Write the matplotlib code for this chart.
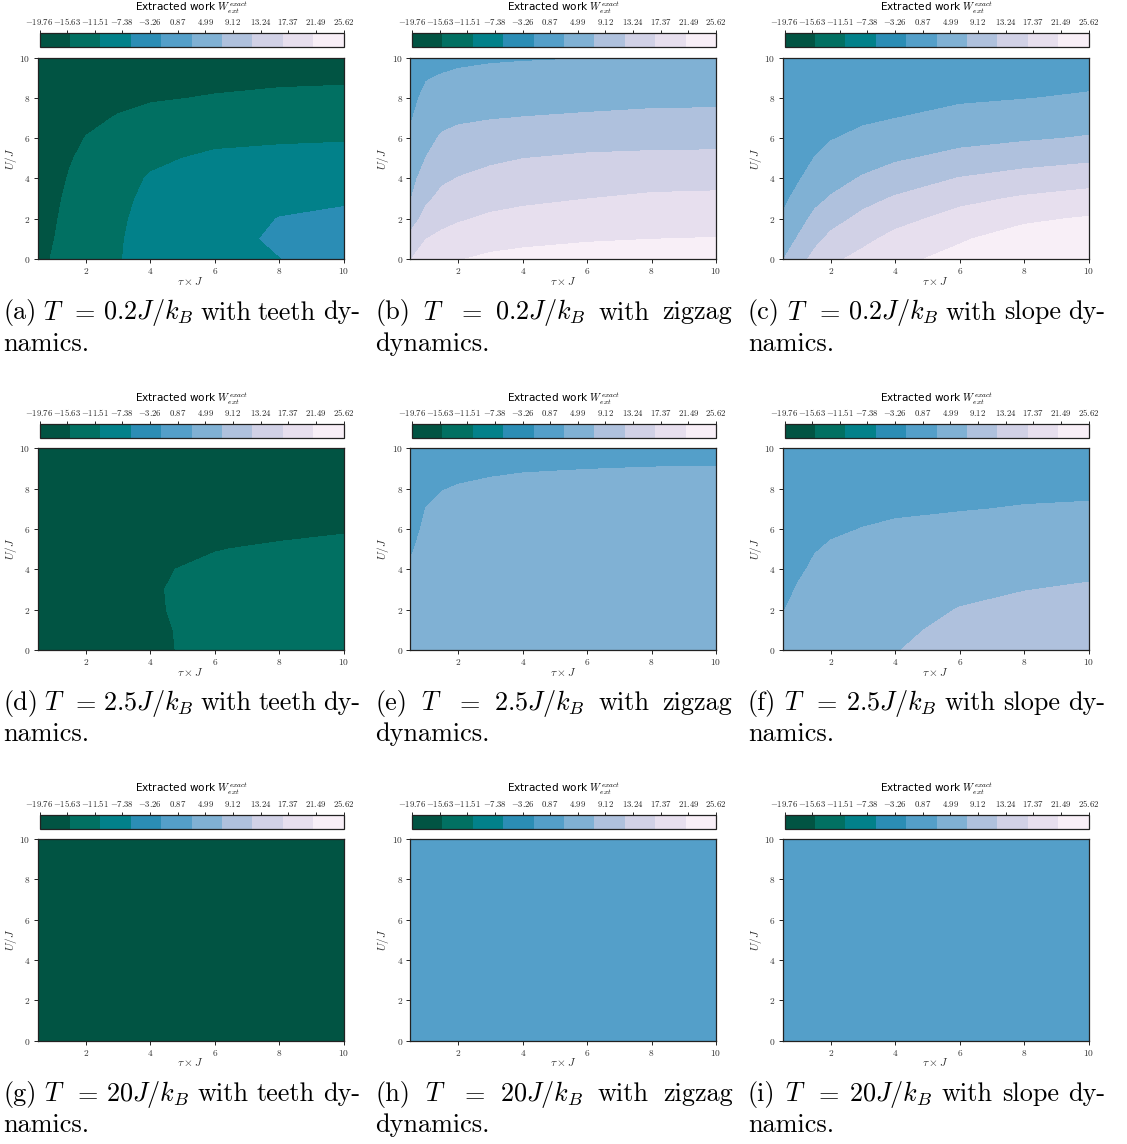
import numpy as np
import matplotlib
matplotlib.use("Agg")
import matplotlib.pyplot as plt
from matplotlib.transforms import IdentityTransform

plt.rcParams["mathtext.fontset"] = "cm"
plt.rcParams["font.family"] = "cmr10"
plt.rcParams["axes.formatter.use_mathtext"] = True

# ---------------------------------------------------------------- data
TAU = [0.5, 1.0, 1.5, 2.0, 3.0, 4.0, 6.0, 8.0, 10.0]        # tau x J
U_OVER_J = [0, 1, 2, 3, 4, 5, 6, 7, 8, 9, 10]                 # U / J

W_MIN, W_MAX = -19.76, 25.62
CBAR_TICKS = [-19.76, -15.63, -11.51, -7.38, -3.26, 0.87,
              4.99, 9.12, 13.24, 17.37, 21.49, 25.62]

TEMPERATURES = ["0.2", "2.5", "20"]
DYNAMICS = ["teeth", "zigzag", "slope"]
LETTERS = "abcdefghi"

# extracted work, rows follow U_OVER_J, columns follow TAU
W_TEETH_T02 = [
    [-17.26, -14.63, -12.50, -11.36, -10.91, -9.32, -7.51, -6.24, -4.78],
    [-17.49, -15.36, -12.95, -11.59, -11.00, -9.41, -7.42, -5.60, -4.78],
    [-17.72, -15.90, -13.41, -12.05, -11.23, -9.55, -7.73, -6.06, -5.47],
    [-17.94, -16.36, -14.09, -12.50, -11.59, -9.87, -8.42, -7.05, -6.60],
    [-18.17, -16.81, -14.86, -13.18, -12.05, -10.37, -9.10, -7.96, -7.51],
    [-18.40, -17.17, -15.59, -14.09, -12.73, -11.36, -10.00, -9.32, -8.87],
    [-18.63, -17.49, -16.13, -15.13, -13.63, -12.50, -11.59, -11.36, -11.14],
    [-18.85, -17.85, -16.58, -15.90, -15.04, -13.86, -12.95, -12.50, -12.27],
    [-19.08, -18.17, -17.04, -16.58, -15.90, -15.68, -14.95, -14.31, -14.09],
    [-19.31, -18.49, -17.49, -17.04, -16.58, -16.36, -16.36, -16.13, -15.90],
    [-19.53, -18.85, -17.94, -17.49, -17.04, -16.81, -16.58, -16.58, -16.36],
]

W_ZIGZAG_T02 = [
    [16.32, 18.81, 19.95, 20.86, 21.85, 22.31, 22.81, 23.03, 23.17],
    [13.10, 16.50, 17.54, 18.41, 19.49, 20.08, 20.72, 21.04, 21.22],
    [9.83, 13.64, 15.32, 16.09, 17.18, 17.82, 18.63, 19.13, 19.31],
    [7.15, 11.23, 13.19, 14.09, 15.14, 15.73, 16.50, 17.18, 17.36],
    [5.93, 9.42, 11.28, 12.14, 13.23, 13.87, 14.59, 15.05, 15.23],
    [4.75, 7.56, 9.65, 10.33, 11.28, 11.96, 12.60, 12.87, 12.96],
    [3.52, 6.33, 7.97, 8.60, 9.28, 9.78, 10.37, 10.60, 10.69],
    [2.48, 5.11, 6.38, 6.88, 7.29, 7.56, 7.97, 8.33, 8.42],
    [1.80, 3.88, 4.79, 5.24, 5.70, 5.88, 6.15, 6.47, 6.56],
    [1.12, 2.70, 3.25, 3.66, 4.07, 4.25, 4.52, 4.84, 5.02],
    [0.43, 1.57, 1.71, 2.07, 2.43, 2.61, 2.84, 3.16, 3.48],
]

W_SLOPE_T02 = [
    [7.24, 10.19, 13.37, 15.64, 17.82, 20.17, 22.22, 24.94, 25.53],
    [5.29, 7.88, 10.78, 13.05, 15.50, 17.77, 20.67, 22.81, 23.49],
    [3.38, 6.02, 8.42, 10.42, 13.14, 15.14, 18.13, 20.40, 21.45],
    [1.93, 4.25, 6.47, 7.79, 10.60, 12.46, 15.36, 17.09, 18.27],
    [1.12, 2.57, 4.75, 6.02, 7.83, 9.60, 12.19, 13.69, 14.73],
    [0.43, 1.57, 3.02, 4.34, 5.83, 6.92, 8.74, 10.15, 11.14],
    [-0.02, 0.89, 1.84, 2.70, 3.93, 4.93, 6.20, 6.92, 7.79],
    [-0.38, 0.30, 1.02, 1.66, 2.29, 2.88, 4.16, 4.84, 5.52],
    [-0.70, -0.16, 0.43, 1.02, 1.48, 2.02, 2.34, 2.79, 3.38],
    [-0.93, -0.52, 0.03, 0.52, 0.93, 1.39, 1.57, 1.93, 1.84],
    [-1.15, -0.79, -0.34, 0.12, 0.52, 0.93, 1.02, 1.34, 1.21],
]

W_TEETH_T25 = [
    [-18.17, -17.85, -17.49, -17.22, -16.77, -16.36, -13.41, -12.50, -12.05],
    [-18.17, -17.85, -17.49, -17.17, -16.67, -16.27, -13.32, -12.41, -11.95],
    [-18.17, -17.85, -17.49, -17.13, -16.49, -15.86, -13.32, -12.50, -12.05],
    [-18.22, -17.90, -17.49, -17.13, -16.40, -15.68, -13.63, -12.95, -12.50],
    [-18.26, -17.95, -17.58, -17.22, -16.49, -15.68, -14.50, -13.86, -13.41],
    [-18.31, -18.04, -17.72, -17.40, -16.77, -16.13, -15.36, -14.68, -14.31],
    [-18.40, -18.17, -17.90, -17.67, -17.22, -16.81, -16.36, -16.13, -15.54],
    [-18.49, -18.31, -18.08, -17.90, -17.58, -17.26, -16.95, -16.58, -16.36],
    [-18.58, -18.40, -18.22, -18.08, -17.81, -17.49, -17.26, -17.04, -16.81],
    [-18.67, -18.49, -18.35, -18.22, -17.99, -17.72, -17.49, -17.26, -17.13],
    [-18.76, -18.58, -18.44, -18.35, -18.17, -17.95, -17.72, -17.49, -17.49],
]

W_ZIGZAG_T25 = [
    [5.65, 6.11, 6.33, 6.47, 6.56, 6.65, 6.74, 6.79, 6.83],
    [5.02, 5.65, 5.93, 6.06, 6.15, 6.24, 6.33, 6.38, 6.42],
    [4.43, 5.20, 5.47, 5.61, 5.70, 5.79, 5.88, 5.93, 5.97],
    [3.84, 4.75, 5.06, 5.20, 5.29, 5.38, 5.47, 5.52, 5.56],
    [3.20, 4.29, 4.61, 4.75, 4.88, 4.97, 5.06, 5.11, 5.11],
    [2.61, 3.84, 4.20, 4.34, 4.43, 4.52, 4.61, 4.65, 4.70],
    [2.11, 3.38, 3.75, 3.88, 4.02, 4.11, 4.20, 4.25, 4.29],
    [1.66, 2.98, 3.34, 3.48, 3.57, 3.70, 3.75, 3.79, 3.84],
    [1.30, 2.25, 2.88, 3.02, 3.16, 3.25, 3.34, 3.38, 3.43],
    [0.98, 1.66, 2.39, 2.61, 2.75, 2.84, 2.91, 2.96, 2.98],
    [0.66, 1.21, 1.93, 2.20, 2.34, 2.43, 2.48, 2.52, 2.57],
]

W_SLOPE_T25 = [
    [4.52, 5.20, 5.65, 5.93, 6.47, 7.24, 9.65, 10.19, 10.64],
    [3.61, 4.52, 5.06, 5.38, 5.88, 6.56, 8.60, 9.24, 9.69],
    [2.75, 3.84, 4.52, 4.84, 5.29, 5.93, 7.60, 8.33, 8.78],
    [2.11, 3.20, 3.93, 4.29, 4.75, 5.24, 6.61, 7.38, 7.83],
    [1.57, 2.52, 3.38, 3.75, 4.16, 4.56, 5.65, 6.29, 6.83],
    [1.12, 2.02, 2.79, 3.20, 3.57, 3.93, 4.70, 5.20, 5.65],
    [0.75, 1.57, 2.25, 2.61, 2.98, 3.25, 3.75, 4.16, 4.43],
    [0.43, 1.21, 1.80, 2.16, 2.43, 2.61, 2.79, 3.07, 3.25],
    [0.16, 0.89, 1.43, 1.75, 1.98, 2.11, 2.25, 2.39, 2.39],
    [-0.07, 0.62, 1.12, 1.43, 1.61, 1.75, 1.84, 1.93, 1.93],
    [-0.25, 0.39, 0.84, 1.12, 1.30, 1.43, 1.52, 1.61, 1.66],
]

# at T = 20 J/k_B the extracted work is flat over the whole (tau, U) plane
W_TEETH_T20 = -17.9
W_ZIGZAG_T20 = 0.6
W_SLOPE_T20 = 0.7

shape = (len(U_OVER_J), len(TAU))
FIELDS = [
    np.array(W_TEETH_T02), np.array(W_ZIGZAG_T02), np.array(W_SLOPE_T02),
    np.array(W_TEETH_T25), np.array(W_ZIGZAG_T25), np.array(W_SLOPE_T25),
    np.full(shape, W_TEETH_T20), np.full(shape, W_ZIGZAG_T20),
    np.full(shape, W_SLOPE_T20),
]

LEVELS = np.linspace(W_MIN, W_MAX, 11)

# ---------------------------------------------------------------- layout (pixels)
FW, FH = 1127, 1144
fig = plt.figure(figsize=(FW / 100, FH / 100), dpi=100)

COL_X = [3.0, 375.5, 748.0]
ROW_DY = 390.8
CAP_W = 357.0
CAP_FS = 18.9
TICK_COLOR = "#333333"


def rect(x0, y0, x1, y1):
    return [x0 / FW, 1 - y1 / FH, (x1 - x0) / FW, (y1 - y0) / FH]


renderer = fig.canvas.get_renderer()


def justified(tokens, x0, x1, y):
    texts = [fig.text(0, FH - y, t, transform=IdentityTransform(),
                      fontsize=CAP_FS, ha="left", va="baseline")
             for t in tokens]
    widths = [t.get_window_extent(renderer).width for t in texts]
    gap = (x1 - x0 - sum(widths)) / (len(texts) - 1)
    x = x0
    for t, w in zip(texts, widths):
        t.set_position((x, FH - y))
        x += w + gap


for k, field in enumerate(FIELDS):
    row, col = divmod(k, 3)
    cx = COL_X[col]
    dy = row * ROW_DY

    ax = fig.add_axes(rect(cx + 34.5, 57.5 + dy, cx + 340.5, 259.0 + dy))
    cs = ax.contourf(TAU, U_OVER_J, field, levels=LEVELS, cmap="PuBuGn_r")
    ax.set_xlim(TAU[0], TAU[-1])
    ax.set_ylim(U_OVER_J[0], U_OVER_J[-1])
    ax.set_xticks([2, 4, 6, 8, 10])
    ax.set_yticks([0, 2, 4, 6, 8, 10])
    ax.tick_params(direction="out", length=3, width=0.7, labelsize=6.8,
                   pad=2, labelcolor=TICK_COLOR, color="#222222")
    for sp in ax.spines.values():
        sp.set_linewidth(0.9)
        sp.set_color("#222222")
    ax.set_xlabel(r"$\tau \times J$", fontsize=8.2, color=TICK_COLOR)
    ax.set_ylabel(r"$U/J$", fontsize=8.2, color=TICK_COLOR)
    ax.xaxis.set_label_coords(0.5, -0.078)
    ax.yaxis.set_label_coords(-0.062, 0.5)

    cax = fig.add_axes(rect(cx + 36.5, 33.0 + dy, cx + 340.5, 47.0 + dy))
    cb = fig.colorbar(cs, cax=cax, orientation="horizontal")
    cb.set_ticks(CBAR_TICKS)
    cb.set_ticklabels([f"${v:.2f}$" for v in CBAR_TICKS])
    cax.xaxis.set_ticks_position("top")
    cax.xaxis.set_label_position("top")
    cax.tick_params(axis="x", direction="out", length=2.5, width=0.6,
                    labelsize=6.3, pad=1.5, labelcolor="#222222")
    cb.outline.set_linewidth(0.9)
    cb.outline.set_edgecolor("#222222")

    fig.text((cx + 36.5 + cx + 340.5) / 2 / FW, 1 - (8.0 + dy) / FH,
             r"Extracted work $W_{ext}^{exact}$", family="DejaVu Sans",
             fontsize=7.6, ha="center", va="center")

    # caption below each panel
    T = TEMPERATURES[row]
    dyn = DYNAMICS[col]
    head = [f"({LETTERS[k]})", "$T$", "$=$", f"${T}J/k_B$", "with"]
    if dyn == "zigzag":
        line1, line2 = head + ["zigzag"], "dynamics."
    else:
        line1, line2 = head + [dyn, "dy-"], "namics."
    justified(line1, cx, cx + CAP_W, 319.5 + dy)
    fig.text(cx / FW, 1 - (350.5 + dy) / FH, line2, fontsize=CAP_FS,
             ha="left", va="baseline")

fig.savefig("out.png", dpi=100, facecolor="white")
